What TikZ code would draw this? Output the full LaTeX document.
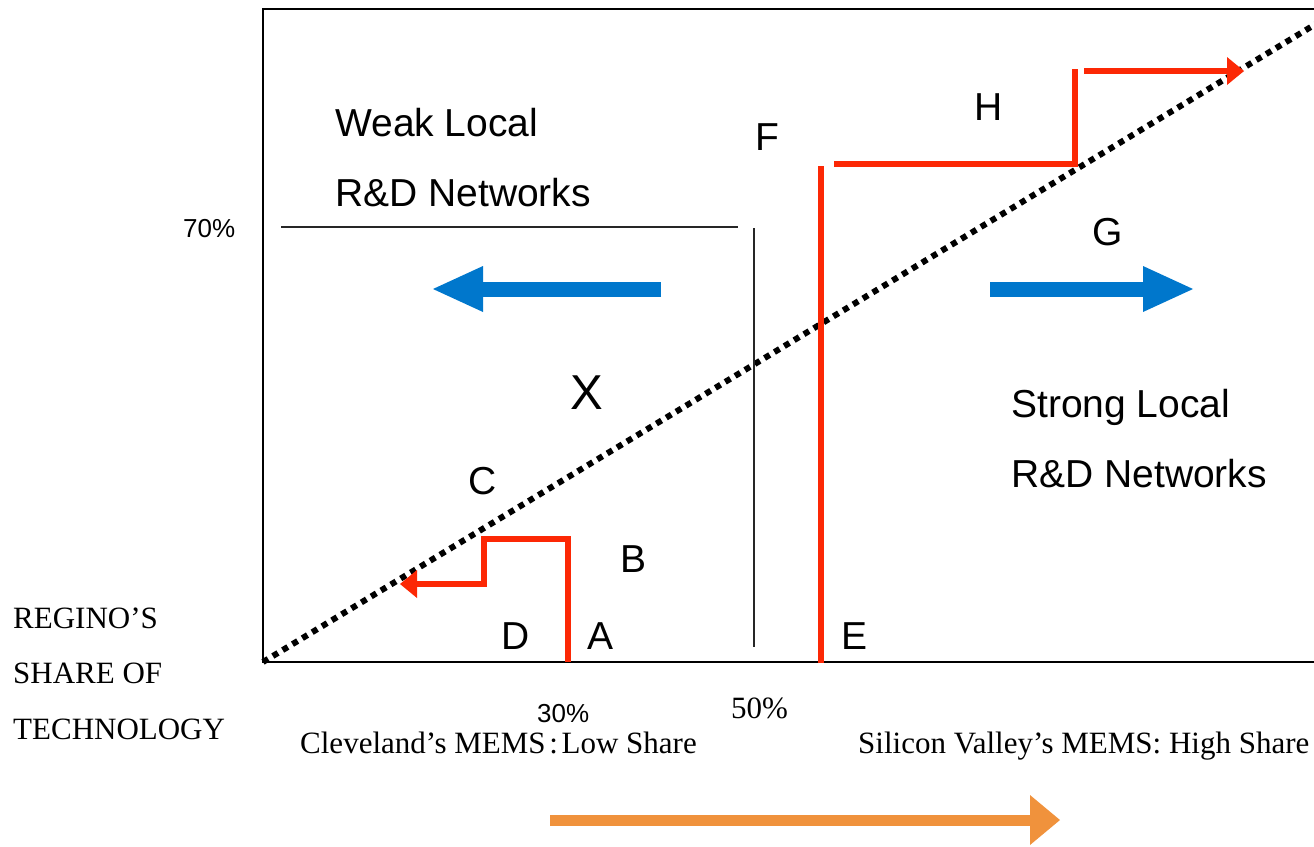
\documentclass[tikz,border=0pt]{standalone}
\usepackage{fontspec}
\setmainfont{Liberation Serif}
\newfontfamily\arialfam{Liberation Sans}
\usetikzlibrary{arrows.meta}
\definecolor{redline}{RGB}{252,40,5}
\definecolor{bluearrow}{RGB}{0,119,204}
\definecolor{orangearrow}{RGB}{240,146,60}
\begin{document}
\begin{tikzpicture}[x=1pt,y=-1pt,
  frameline/.style={line width=2.4pt, black, line join=miter},
  thinline/.style={line width=1.3pt, black!85},
  diag/.style={line width=6pt, black, dash pattern=on 6pt off 5.5pt},
  redpath/.style={line width=5.5pt, redline, line join=miter},
  redtip/.style={-{Triangle[length=17pt,width=28pt,line width=0pt]}},
  bluearr/.style={line width=15pt, bluearrow, -{Triangle[length=50pt,width=46pt,line width=0pt]}},
  orangearr/.style={line width=11pt, orangearrow, -{Triangle[length=30pt,width=50pt,line width=0pt]}},
  letter/.style={font=\arialfam\fontsize{39}{47}\selectfont, inner sep=0pt},
  bigletter/.style={font=\arialfam\fontsize{49}{58}\selectfont, inner sep=0pt},
  heading/.style={font=\arialfam\fontsize{39}{47}\selectfont, inner sep=0pt, anchor=base west},
  pct/.style={font=\arialfam\fontsize{26}{31}\selectfont, inner sep=0pt, anchor=base west},
  serifnote/.style={font=\fontsize{31}{37}\selectfont, inner sep=0pt, anchor=base west},
]
\useasboundingbox (0,0) rectangle (1314,846);

% axes frame
\coordinate (o) at (263,662);
\coordinate (tl) at (263,9);
\coordinate (tr) at (1314,9);
\coordinate (br) at (1314,662);
\draw[frameline] (tr) -- (tl) -- (o) -- (br);

% dotted diagonal
\coordinate (diagend) at (1330,15.4);
\draw[diag] (o) -- (diagend);

% 70% and 50% divider lines
\coordinate (h70l) at (281,227);
\coordinate (h70r) at (738,227);
\coordinate (v50t) at (754,228);
\coordinate (v50b) at (754,647);
\draw[thinline] (h70l) -- (h70r);
\draw[thinline] (v50t) -- (v50b);

% red path A -> B -> C -> D
\coordinate (a0) at (568,662);
\coordinate (a1) at (568,539);
\coordinate (b1) at (484,539);
\coordinate (c1) at (484,584);
\coordinate (dtip) at (400,584);
\draw[redpath, redtip] (a0) -- (a1) -- (b1) -- (c1) -- (dtip);

% red path E, F -> H -> G
\coordinate (e0) at (821,663);
\coordinate (e1) at (821,166);
\draw[redpath] (e0) -- (e1);
\coordinate (h0) at (834,164);
\coordinate (h1) at (1075,164);
\coordinate (h2) at (1075,69);
\draw[redpath] (h0) -- (h1) -- (h2);
\coordinate (g0) at (1084,71);
\coordinate (gtip) at (1244,71);
\draw[redpath, redtip] (g0) -- (gtip);

% blue direction arrows
\coordinate (lb0) at (661,289);
\coordinate (lbtip) at (433,289);
\draw[bluearr] (lb0) -- (lbtip);
\coordinate (rb0) at (990,289);
\coordinate (rbtip) at (1193,289);
\draw[bluearr] (rb0) -- (rbtip);

% orange arrow under the axis
\coordinate (ob0) at (550,820);
\coordinate (obtip) at (1060,820);
\draw[orangearr] (ob0) -- (obtip);

% region headings
\node[heading] (weak1) at (335,136) {Weak Local};
\node[heading] (weak2) at (335,206) {R\&D Networks};
\node[heading] (strong1) at (1011,417) {Strong Local};
\node[heading] (strong2) at (1011,487) {R\&D Networks};

% point letters
\node[letter] (lF) at (767,137) {F};
\node[letter] (lH) at (989,107) {H};
\node[letter] (lG) at (1108,232) {G};
\node[bigletter] (lX) at (587,393) {X};
\node[letter] (lC) at (483,481) {C};
\node[letter] (lB) at (633,559) {B};
\node[letter] (lD) at (516,636) {D};
\node[letter] (lA) at (600,636) {A};
\node[letter] (lE) at (854,636) {E};

% percentages
\node[pct] (p70) at (183,237) {70\%};
\node[pct] (p30) at (537,722) {30\%};
\node[serifnote] (p50) at (731,718) {50\%};

% axis captions
\node[serifnote] (ylab1) at (13,628) {REGINO’S};
\node[serifnote] (ylab2) at (13,683) {SHARE OF};
\node[serifnote] (ylab3) at (13,739) {TECHNOLOGY};
\node[serifnote] (xlow) at (300,753) {Cleveland’s MEMS\hspace{0.12em}:\hspace{0.12em}Low Share};
\node[serifnote] (xhigh) at (858,753) {Silicon Valley’s MEMS: High Share};
\end{tikzpicture}
\end{document}
